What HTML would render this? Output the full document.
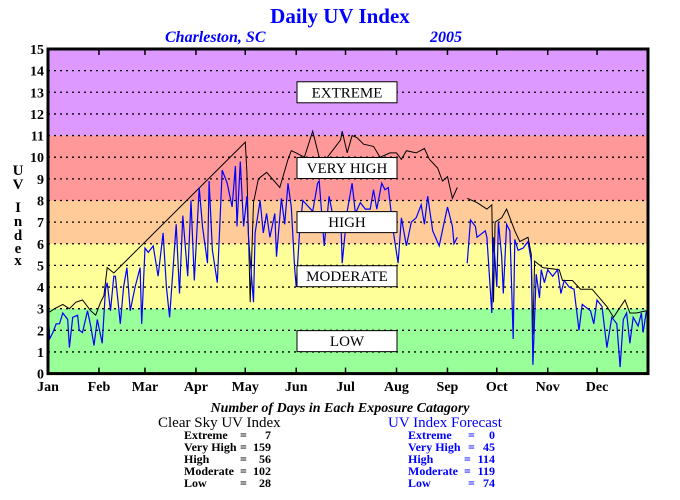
<!DOCTYPE html>
<html><head><meta charset="utf-8"><style>
body{margin:0;background:#fff;}
svg{display:block;font-family:"Liberation Serif",serif;}
</style></head><body>
<svg id="chart" width="680" height="500" viewBox="0 0 680 500" xmlns="http://www.w3.org/2000/svg">
<text x="340" y="23" text-anchor="middle" font-size="21" font-weight="bold" fill="#0000ff">Daily UV Index</text>
<text x="165" y="42" font-size="16" font-weight="bold" font-style="italic" fill="#0000ff">Charleston, SC</text>
<text x="430" y="42" font-size="16" font-weight="bold" font-style="italic" fill="#0000ff">2005</text>
<g id="bands"></g>
<g id="grid"></g>
<g id="series"></g>
<g id="boxes"></g>
<g id="axes"></g>
<g font-size="15" font-weight="bold" text-anchor="middle">
<text x="18" y="175">U</text><text x="18" y="189">V</text><text x="18" y="212">I</text><text x="18" y="226">n</text><text x="18" y="240">d</text><text x="18" y="253">e</text><text x="18" y="265">x</text>
</g>
<text x="340" y="412" text-anchor="middle" font-size="14" font-weight="bold" font-style="italic">Number of Days in Each Exposure Catagory</text>
<g>
<text x="158" y="427" font-size="15">Clear Sky UV Index</text>
<g font-size="12" font-weight="bold">
<text x="184" y="439">Extreme</text><text x="240" y="439">=</text><text x="271" y="439" text-anchor="end">7</text>
<text x="184" y="451">Very High</text><text x="240" y="451">=</text><text x="271" y="451" text-anchor="end">159</text>
<text x="184" y="463">High</text><text x="240" y="463">=</text><text x="271" y="463" text-anchor="end">56</text>
<text x="184" y="475">Moderate</text><text x="240" y="475">=</text><text x="271" y="475" text-anchor="end">102</text>
<text x="184" y="487">Low</text><text x="240" y="487">=</text><text x="271" y="487" text-anchor="end">28</text>
</g></g>
<g fill="#0000ff">
<text x="388" y="427" font-size="15">UV Index Forecast</text>
<g font-size="12" font-weight="bold">
<text x="408" y="439">Extreme</text><text x="468" y="439">=</text><text x="495" y="439" text-anchor="end">0</text>
<text x="408" y="451">Very High</text><text x="468" y="451">=</text><text x="495" y="451" text-anchor="end">45</text>
<text x="408" y="463">High</text><text x="464" y="463">=</text><text x="495" y="463" text-anchor="end">114</text>
<text x="408" y="475">Moderate</text><text x="464" y="475">=</text><text x="495" y="475" text-anchor="end">119</text>
<text x="408" y="487">Low</text><text x="468" y="487">=</text><text x="495" y="487" text-anchor="end">74</text>
</g></g>
</svg>
<script>
const months=["Jan","Feb","Mar","Apr","May","Jun","Jul","Aug","Sep","Oct","Nov","Dec"];
const monthStartDays=[0,31,59,90,120,151,181,212,243,273,304,334];
const yTicks=[0,1,2,3,4,5,6,7,8,9,10,11,12,13,14,15];
const bandLimits=[0,3,6,8,11,15];
const bandColors=["#99ff99","#ffff99","#ffcc99","#ff9999","#dd99ff"];
const categoryNames=["LOW","MODERATE","HIGH","VERY HIGH","EXTREME"];
const categoryLabelValues=[1.5,4.5,7.0,9.5,13.0];
const clearDays=[0,4,9,13,17,21,26,29,32,34,36,40,120,121,123,125,128,133,141,146,148,151,156,161,165,167,178,179,182,185,188,192,198,202,208,212,215,218,224,229,232,237,240,243,246,249,null,255,261,267,270,271,272,276,279,284,287,292,294,295,296,301,311,313,319,324,331,340,344,351,354,358,364];
const clearUV=[2.8,3.0,3.2,3.0,3.3,3.4,2.9,2.7,3.3,3.6,4.9,4.65,10.7,9.3,3.3,7.9,9.0,9.3,8.6,9.9,10.3,10.2,10.0,11.2,10.0,9.7,10.8,11.2,10.2,11.0,10.9,10.6,10.5,10.0,10.2,10.2,9.9,10.3,10.2,10.4,9.9,9.5,8.9,9.1,8.1,8.6,null,8.1,7.9,7.6,7.8,3.3,7.0,7.2,7.6,6.6,6.1,6.3,5.5,1.8,5.2,4.9,4.8,4.3,4.3,3.9,3.9,3.1,2.6,3.4,2.8,2.8,2.9];
const fcDays=[0,1,3,5,7,9,12,13,15,18,19,21,24,26,28,30,33,35,36,38,40,41,44,46,48,50,53,56,57,59,61,64,67,70,72,74,78,80,82,85,87,89,92,94,97,98,100,103,106,109,112,114,115,117,119,121,122,125,126,129,131,133,135,138,139,142,144,146,148,150,151,153,155,161,164,165,168,171,173,176,178,179,182,185,187,190,193,196,198,200,203,205,207,210,213,215,218,221,224,227,229,231,234,238,241,243,246,247,249,null,255,257,260,261,266,267,270,271,273,274,276,277,279,281,283,284,286,289,292,294,295,297,299,300,302,304,307,310,312,314,317,320,323,325,330,332,334,337,340,343,346,348,350,352,354,356,359,361,362,364];
const fcUV=[3.2,1.6,1.9,2.3,2.3,2.8,2.5,1.2,2.6,2.7,2.0,1.9,2.9,2.2,1.3,2.5,1.4,3.9,4.2,2.9,4.5,4.5,2.3,4.0,4.9,2.9,4.0,4.9,2.3,5.8,5.6,5.9,4.5,6.5,4.0,2.6,6.9,3.7,7.3,4.5,8.0,4.3,8.6,6.8,5.1,8.9,5.7,4.2,9.4,8.8,7.7,9.6,6.8,9.8,6.8,8.2,6.3,3.3,6.5,8.0,6.5,7.4,6.3,7.4,5.4,8.1,6.9,8.8,7.7,4.9,4.0,6.5,8.0,7.5,8.8,8.9,5.9,8.2,7.4,6.5,7.5,5.1,7.5,8.8,7.4,7.9,7.6,7.6,8.5,7.6,8.8,8.5,8.6,6.6,5.1,7.2,5.9,7.0,7.2,7.8,6.9,8.2,6.6,5.9,7.0,7.7,6.8,6.0,6.3,null,5.1,7.1,6.8,6.3,6.6,6.3,2.8,6.3,4.0,7.0,5.4,3.7,6.9,6.6,1.6,6.2,5.7,5.8,6.1,5.2,0.4,4.6,3.5,4.8,4.2,4.8,4.5,4.8,3.7,4.3,4.0,3.9,2.0,3.2,2.9,2.3,3.4,3.1,1.2,2.6,2.3,0.3,2.5,2.8,1.4,2.6,2.2,2.8,1.9,2.9];

const NS="http://www.w3.org/2000/svg";
const X0=48,X1=648,Y0=373.6,Y15=49;
function xScale(d){return X0+d*(X1-X0)/365;}
function yScale(v){return Y0-v*(Y0-Y15)/15;}
function mk(tag,attrs,parent){const e=document.createElementNS(NS,tag);for(const k in attrs)e.setAttribute(k,attrs[k]);parent.appendChild(e);return e;}

const bands=document.getElementById('bands');
for(let i=0;i<bandColors.length;i++){
  const r=mk('rect',{x:X0,y:yScale(bandLimits[i+1]),width:X1-X0,height:yScale(bandLimits[i])-yScale(bandLimits[i+1]),fill:bandColors[i]},bands);
  
  
}
const grid=document.getElementById('grid');
yTicks.forEach(t=>{
  if(t===0||t===15)return;
  const l=mk('line',{x1:X0,x2:X1,y1:yScale(t),y2:yScale(t),stroke:'#000','stroke-width':1.3,'stroke-dasharray':'2,4'},grid);
  
  
});
const series=document.getElementById('series');
function pathFor(days,vals){
  let d='',pen=false;
  for(let i=0;i<days.length;i++){
    if(days[i]===null||vals[i]===null){pen=false;continue;}
    d+=(pen?'L':'M')+xScale(days[i]).toFixed(1)+' '+yScale(vals[i]).toFixed(1)+' ';pen=true;
  }
  return d;
}
const pc=mk('path',{d:pathFor(clearDays,clearUV),fill:'none',stroke:'#000','stroke-width':1},series);


const pf=mk('path',{d:pathFor(fcDays,fcUV),fill:'none',stroke:'#0000ff','stroke-width':1.2},series);



const boxes=document.getElementById('boxes');
categoryNames.forEach((n,i)=>{
  const cy=yScale(categoryLabelValues[i]);
  const g=mk('g',{},boxes);
  
  
  mk('rect',{x:297,y:cy-10.5,width:100,height:21,fill:'#fff',stroke:'#000','stroke-width':1},g);
  const t=mk('text',{x:347,y:cy+5,'text-anchor':'middle','font-size':15},g);
  t.textContent=n;
});

const axes=document.getElementById('axes');
const frame=mk('rect',{x:X0,y:Y15,width:X1-X0,height:Y0-Y15,fill:'none',stroke:'#000','stroke-width':3},axes);


yTicks.forEach(t=>{
  const tx=mk('text',{x:44,y:yScale(t)+5,'text-anchor':'end','font-size':14,'font-weight':'bold'},axes);
  tx.textContent=t;
  
  
});
months.forEach((m,i)=>{
  const x=xScale(monthStartDays[i]);
  if(i>0){
    mk('line',{x1:x,x2:x,y1:Y0,y2:Y0-6,stroke:'#000','stroke-width':1.5},axes);
    mk('line',{x1:x,x2:x,y1:Y15,y2:Y15+6,stroke:'#000','stroke-width':1.5},axes);
  }
  const tx=mk('text',{x:x,y:391,'text-anchor':'middle','font-size':14,'font-weight':'bold'},axes);
  tx.textContent=m;
  
  
});
</script>
</body></html>
